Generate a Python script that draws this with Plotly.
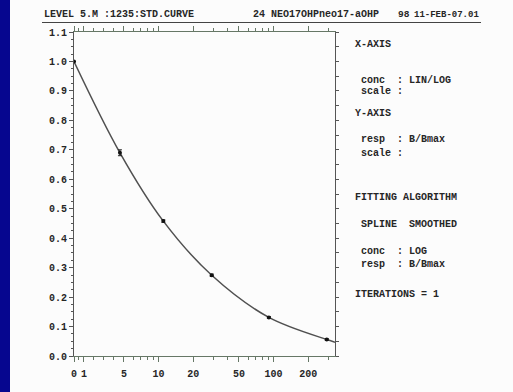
import math
import plotly.graph_objects as go

# ---- data ----
std_conc = [0, 4.6, 11, 29, 91, 290]
std_resp = [1.0, 0.69, 0.458, 0.274, 0.131, 0.056]
std_err = [0, 0.01, 0.004, 0.004, 0.003, 0.003]

curve_conc = [0, 4.6, 11, 29, 91, 290, 342]
curve_resp = [1.0, 0.69, 0.458, 0.274, 0.131, 0.056, 0.047]

x_tick_conc = [0, 1, 5, 10, 20, 50, 100, 200]
x_tick_labels = ["0", "1", "5", "10", "20", "50", "100", "200"]
x_minor_conc = [0.5, 2, 3, 4, 6, 7, 8, 9, 30, 40, 60, 70, 80, 90, 300]

y_tick_vals = [0.0, 0.1, 0.2, 0.3, 0.4, 0.5, 0.6, 0.7, 0.8, 0.9, 1.0, 1.1]
y_tick_labels = ["0.0", "0.1", "0.2", "0.3", "0.4", "0.5", "0.6", "0.7", "0.8", "0.9", "1.0", "1.1"]

header_left = "LEVEL 5.M :1235:STD.CURVE"
header_mid = "24 NEO17OHPneo17-aOHP"
header_run = "98"
header_date = "11-FEB-07.01"

panel_lines = [
    ("X-AXIS", 0),
    ("conc  : LIN/LOG", 1),
    ("scale :", 1),
    ("Y-AXIS", 0),
    ("resp  : B/Bmax", 1),
    ("scale :", 1),
    ("FITTING ALGORITHM", 0),
    ("SPLINE  SMOOTHED", 1),
    ("conc  : LOG", 1),
    ("resp  : B/Bmax", 1),
    ("ITERATIONS = 1", 0),
]
# vertical pixel position of each panel line (from the top of the image)
panel_row_px = [44, 80, 91, 113, 139, 153, 197, 224, 251, 264, 294]

# ---- LIN/LOG concentration scale: linear up to 5, logarithmic above ----
LIN_LIMIT = 5.0


def lin_log(c):
    if c >= LIN_LIMIT:
        return math.log10(c)
    return math.log10(LIN_LIMIT) - (LIN_LIMIT - c) / (LIN_LIMIT * math.log(10))


FONT = "Liberation Mono"
INK = "#262626"
AXIS = "#555555"


def nb(s):
    return s.replace(" ", "\u00a0")


fig = go.Figure()

fig.add_trace(go.Scatter(
    x=[lin_log(c) for c in curve_conc], y=curve_resp,
    mode="lines", line=dict(color="#505050", width=1.5, shape="spline", smoothing=1.0),
    hoverinfo="skip", showlegend=False,
))
fig.add_trace(go.Scatter(
    x=[lin_log(c) for c in std_conc], y=std_resp,
    mode="markers", marker=dict(color="#111111", size=4),
    error_y=dict(type="data", array=std_err, visible=True, color="#222222", width=2, thickness=1),
    showlegend=False,
))
# invisible trace to carry the right-hand tick axis
fig.add_trace(go.Scatter(
    x=[lin_log(std_conc[0])], y=[std_resp[0]], yaxis="y2",
    mode="markers", marker=dict(opacity=0), hoverinfo="skip", showlegend=False,
))

W, H = 513, 392
ML, MR, MT, MB = 74, 178, 32, 36
PW, PH = W - ML - MR, H - MT - MB


def px_x(px):
    return (px - ML) / PW


def px_y(py):
    return (H - MB - py) / PH


TF = dict(family=FONT, size=10, color=INK, weight="bold")

fig.update_layout(
    width=W, height=H,
    margin=dict(l=ML, r=MR, t=MT, b=MB),
    paper_bgcolor="#fcfcfc", plot_bgcolor="#fcfcfc",
    font=dict(family=FONT, size=10, color=INK),
    xaxis=dict(
        range=[lin_log(0), lin_log(342)],
        tickmode="array",
        tickvals=[lin_log(c) for c in x_tick_conc],
        ticktext=x_tick_labels,
        ticks="outside", ticklen=5, tickwidth=1, tickcolor="#667766",
        ticklabelstandoff=3,
        showline=True, linecolor="#667766", linewidth=1,
        mirror="ticks", showgrid=False, zeroline=False,
        tickfont=TF,
        minor=dict(tickmode="array", tickvals=[lin_log(c) for c in x_minor_conc],
                   ticks="outside", ticklen=3, tickcolor="#667766", showgrid=False),
    ),
    yaxis=dict(
        range=[0, 1.1],
        tickmode="array", tickvals=y_tick_vals, ticktext=y_tick_labels,
        ticks="outside", ticklen=4, tickcolor=AXIS,
        showline=True, linecolor=AXIS, linewidth=1,
        showgrid=False, zeroline=False,
        tickfont=TF,
        minor=dict(dtick=0.025, ticks="outside", ticklen=2, tickcolor=AXIS, showgrid=False),
    ),
    yaxis2=dict(
        range=[0, 1.1], overlaying="y", side="right",
        tickmode="linear", tick0=0, dtick=0.05,
        ticks="outside", ticklen=3, tickcolor=AXIS,
        showticklabels=False, showline=True, linecolor=AXIS, linewidth=1,
        showgrid=False, zeroline=False,
    ),
)

shapes = [
    # blue slide strip at left edge
    dict(type="rect", xref="paper", yref="paper",
         x0=px_x(0), x1=px_x(10), y0=px_y(H), y1=px_y(0),
         fillcolor="#06068f", line=dict(width=0), layer="below"),
    # header underline
    dict(type="line", xref="paper", yref="paper",
         x0=px_x(42), x1=px_x(481), y0=px_y(22.5), y1=px_y(22.5),
         line=dict(color="#444444", width=1.2)),
]
fig.update_layout(shapes=shapes)

anns = []
for txt, xpx, anchor, size in [(header_left, 42, "left", 10), (header_mid, 251, "left", 10),
                               (header_run, 396, "left", 9.5), (header_date, 481, "right", 9)]:
    anns.append(dict(text=nb(txt), xref="paper", yref="paper", x=px_x(xpx), y=px_y(15),
                     xanchor=anchor, yanchor="middle", showarrow=False,
                     font=dict(family=FONT, size=size, color=INK, weight="bold")))
for (txt, indent), ypx in zip(panel_lines, panel_row_px):
    anns.append(dict(text=nb(txt), xref="paper", yref="paper",
                     x=px_x(353 if indent == 0 else 359), y=px_y(ypx),
                     xanchor="left", yanchor="middle", showarrow=False, font=TF))
fig.update_layout(annotations=anns)

fig.write_html(
    "out.html",
    config={"displayModeBar": False},
    post_script="document.body.style.margin='0';document.body.style.overflow='hidden';",
)
